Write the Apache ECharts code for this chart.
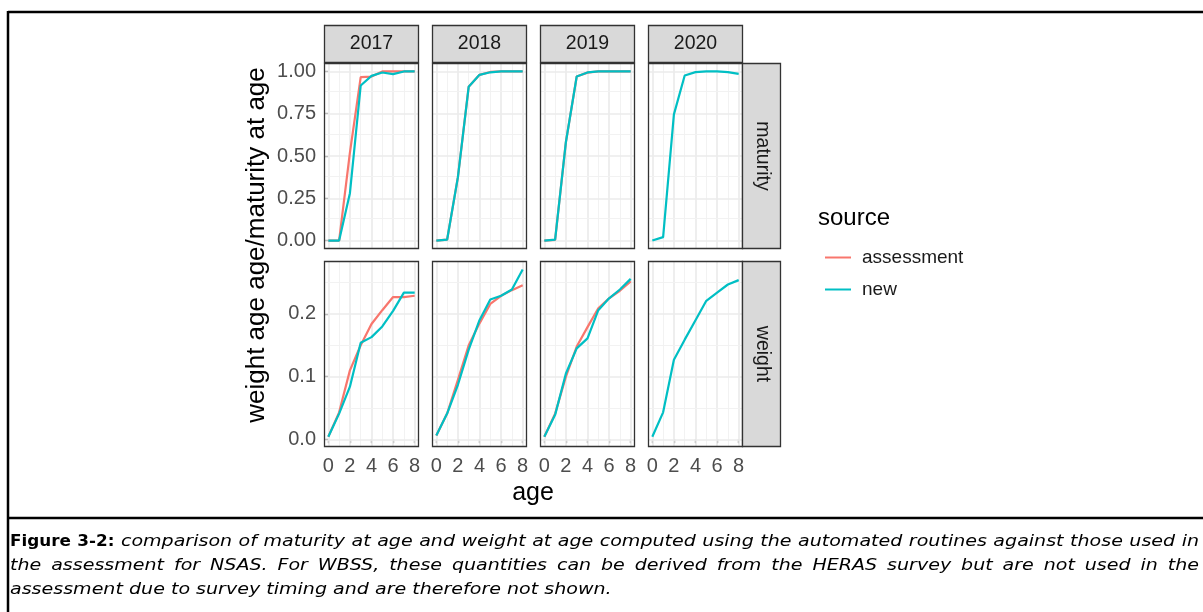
<!DOCTYPE html>
<html>
<head>
<meta charset="utf-8">
<script src="https://cdn.jsdelivr.net/npm/echarts@6/dist/echarts.min.js"></script>
<style>
  html, body { margin: 0; padding: 0; background: #fff; }
  #chart { width: 1203px; height: 612px; }
</style>
</head>
<body>
<div id="chart"></div>
<script>
// ---- data -------------------------------------------------------------
const years = ['2017', '2018', '2019', '2020'];
const quantities = ['maturity', 'weight'];
const ages = [0, 1, 2, 3, 4, 5, 6, 7, 8];
const ageTicks = [0, 2, 4, 6, 8];
const maturityTicks = [0, 0.25, 0.5, 0.75, 1];
const weightTicks = [0, 0.1, 0.2];
const sources = ['assessment', 'new'];

// maturity at age (proportion mature)
const matAssess2017 = [0, 0, 0.52, 0.966, 0.97, 1.0, 1.0, 1.0, 1.0];
const matNew2017    = [0, 0, 0.28, 0.917, 0.974, 0.994, 0.984, 1.0, 1.0];
const matAssess2018 = [0, 0.005, 0.375, 0.91, 0.98, 0.997, 1.0, 1.0, 1.0];
const matNew2018    = [0, 0.005, 0.375, 0.91, 0.98, 0.995, 1.0, 1.0, 1.0];
const matAssess2019 = [0, 0.004, 0.583, 0.97, 0.993, 1.0, 1.0, 1.0, 1.0];
const matNew2019    = [0, 0.006, 0.583, 0.97, 0.994, 1.0, 1.0, 1.0, 1.0];
const matNew2020    = [0, 0.02, 0.746, 0.976, 0.996, 1.0, 1.0, 0.996, 0.986];

// weight at age (kg)
const wtAssess2017 = [0.004, 0.043, 0.110, 0.150, 0.184, 0.206, 0.227, 0.227, 0.229];
const wtNew2017    = [0.004, 0.041, 0.084, 0.154, 0.163, 0.180, 0.205, 0.234, 0.234];
const wtAssess2018 = [0.006, 0.041, 0.095, 0.150, 0.185, 0.216, 0.229, 0.238, 0.246];
const wtNew2018    = [0.006, 0.041, 0.087, 0.143, 0.190, 0.223, 0.229, 0.239, 0.271];
const wtAssess2019 = [0.004, 0.041, 0.100, 0.148, 0.179, 0.209, 0.225, 0.237, 0.252];
const wtNew2019    = [0.004, 0.039, 0.105, 0.145, 0.161, 0.206, 0.225, 0.239, 0.256];
const wtNew2020    = [0.004, 0.043, 0.127, 0.159, 0.190, 0.221, 0.234, 0.247, 0.254];

// [assessment, new] per facet; null where a source has no values
const facetData = {
  maturity: {
    '2017': [matAssess2017, matNew2017],
    '2018': [matAssess2018, matNew2018],
    '2019': [matAssess2019, matNew2019],
    '2020': [null, matNew2020]
  },
  weight: {
    '2017': [wtAssess2017, wtNew2017],
    '2018': [wtAssess2018, wtNew2018],
    '2019': [wtAssess2019, wtNew2019],
    '2020': [null, wtNew2020]
  }
};

const captionLines = [
  [{ t: 'Figure 3-2:', bold: true }, { t: 'comparison of maturity at age and weight at age computed using the automated routines against those used in' }],
  [{ t: 'the assessment for NSAS. For WBSS, these quantities can be derived from the HERAS survey but are not used in the' }],
  [{ t: 'assessment due to survey timing and are therefore not shown.' }]
];

// ---- layout & style ---------------------------------------------------
const FONT = '"Liberation Sans", Arial, sans-serif';
const CAP_FONT = '"DejaVu Sans", Verdana, sans-serif';
const colours = { assessment: '#F8766D', new: '#00BFC4' };
const colLeft = [324, 432, 540, 648];
const rowTop = [63, 261];
const PANEL_W = 95, PANEL_H = 186;
const STRIP = 38;
const ageRange = [-0.4, 8.4];
const yRanges = { maturity: [-0.05, 1.05], weight: [-0.0123, 0.2845] };
const yTicks = { maturity: maturityTicks, weight: weightTicks };
const yDigits = { maturity: 2, weight: 1 };

const grids = [], xAxes = [], yAxes = [], series = [], graphics = [];

function minorBetween(ticks) {
  const out = [];
  for (let i = 0; i < ticks.length - 1; i++) out.push((ticks[i] + ticks[i + 1]) / 2);
  return out;
}

quantities.forEach((q, r) => {
  years.forEach((yr, c) => {
    const idx = r * years.length + c;
    const bottom = r === quantities.length - 1;
    const left = c === 0;
    grids.push({ left: colLeft[c], top: rowTop[r], width: PANEL_W, height: PANEL_H, show: true,
                 backgroundColor: '#fff', borderWidth: 0 });
    xAxes.push({
      gridIndex: idx, type: 'value', min: ageRange[0], max: ageRange[1],
      axisLine: { show: false }, splitLine: { show: false },
      axisTick: { show: bottom, customValues: ageTicks, length: 4, lineStyle: { color: '#333', width: 1.2 } },
      axisLabel: { show: bottom, customValues: ageTicks, margin: 9, fontSize: 20, color: '#4D4D4D', fontFamily: FONT }
    });
    yAxes.push({
      gridIndex: idx, type: 'value', min: yRanges[q][0], max: yRanges[q][1],
      axisLine: { show: false }, splitLine: { show: false },
      axisTick: { show: left, customValues: yTicks[q], length: 4, lineStyle: { color: '#333', width: 1.2 } },
      axisLabel: { show: left, customValues: yTicks[q], margin: 8, fontSize: 20, color: '#4D4D4D', fontFamily: FONT,
                   formatter: v => v.toFixed(yDigits[q]) }
    });

    // panel grid lines (major and minor), kept beneath the data lines
    const major = { color: '#EBEBEB', width: 1.7, type: 'solid' };
    const minor = { color: '#F0F0F0', width: 0.9, type: 'solid' };
    const lines = []
      .concat(ageTicks.map(v => ({ xAxis: v, lineStyle: major })))
      .concat(minorBetween(ageTicks).map(v => ({ xAxis: v, lineStyle: minor })))
      .concat(yTicks[q].map(v => ({ yAxis: v, lineStyle: major })))
      .concat(minorBetween(yTicks[q].concat(q === 'weight' ? [0.3] : [])).filter(v => v < yRanges[q][1]).map(v => ({ yAxis: v, lineStyle: minor })));
    series.push({
      type: 'line', xAxisIndex: idx, yAxisIndex: idx, data: [], silent: true, z: 1,
      markLine: { z: 1, silent: true, symbol: ['none', 'none'], label: { show: false }, animation: false,
                  emphasis: { disabled: true }, data: lines }
    });

    facetData[q][yr].forEach((vals, s) => {
      if (!vals) return;
      const name = sources[s];
      series.push({
        type: 'line', name, xAxisIndex: idx, yAxisIndex: idx,
        data: ages.map((a, i) => [a, vals[i]]),
        symbol: 'none', showSymbol: false, silent: true, animation: false, z: 10 + s,
        lineStyle: { color: colours[name], width: 2.2 }, itemStyle: { color: colours[name] },
        emphasis: { disabled: true }
      });
    });

    // panel border
    graphics.push({ type: 'rect', z: 50, silent: true,
      shape: { x: colLeft[c] + 0.5, y: rowTop[r] + 0.5, width: PANEL_W - 1, height: PANEL_H - 1 },
      style: { fill: null, stroke: '#333333', lineWidth: 1.3 } });
  });
});

// facet strips: years across the top, quantities down the right side
years.forEach((yr, c) => {
  graphics.push({ type: 'rect', z: 50, silent: true,
    shape: { x: colLeft[c] + 0.5, y: rowTop[0] - STRIP + 0.5, width: PANEL_W - 1, height: STRIP - 1 },
    style: { fill: '#D9D9D9', stroke: '#333333', lineWidth: 1.3 } });
  graphics.push({ type: 'text', z: 51, silent: true,
    x: colLeft[c] + PANEL_W / 2, y: rowTop[0] - STRIP / 2,
    style: { text: yr, fontSize: 19.5, fontFamily: FONT, fill: '#1A1A1A', align: 'center', verticalAlign: 'middle' } });
});
const stripX = colLeft[3] + PANEL_W;
quantities.forEach((q, r) => {
  graphics.push({ type: 'rect', z: 50, silent: true,
    shape: { x: stripX - 0.5, y: rowTop[r] + 0.5, width: STRIP, height: PANEL_H - 1 },
    style: { fill: '#D9D9D9', stroke: '#333333', lineWidth: 1.3 } });
  graphics.push({ type: 'text', z: 51, silent: true,
    x: stripX + STRIP / 2, y: rowTop[r] + PANEL_H / 2, rotation: -Math.PI / 2,
    style: { text: q, fontSize: 19.5, fontFamily: FONT, fill: '#1A1A1A', align: 'center', verticalAlign: 'middle' } });
});

// axis titles
graphics.push({ type: 'text', silent: true, x: 257, y: 245, rotation: Math.PI / 2,
  style: { text: 'weight age age/maturity at age', fontSize: 26, fontFamily: FONT, fill: '#000', align: 'center', verticalAlign: 'middle' } });
graphics.push({ type: 'text', silent: true, x: 533, y: 493,
  style: { text: 'age', fontSize: 25, fontFamily: FONT, fill: '#000', align: 'center', verticalAlign: 'middle' } });

// legend title
graphics.push({ type: 'text', silent: true, x: 818, y: 218,
  style: { text: 'source', fontSize: 24, fontFamily: FONT, fill: '#000', align: 'left', verticalAlign: 'middle' } });

// figure frame and caption separator
const frame = { stroke: '#000', lineWidth: 2.5 };
graphics.push({ type: 'line', silent: true, shape: { x1: 8, y1: 12, x2: 1203, y2: 12 }, style: frame });
graphics.push({ type: 'line', silent: true, shape: { x1: 8, y1: 11, x2: 8, y2: 612 }, style: frame });
graphics.push({ type: 'line', silent: true, shape: { x1: 8, y1: 518, x2: 1203, y2: 518 }, style: frame });

// justified caption, placed word by word
(function caption() {
  const ctx = document.createElement('canvas').getContext('2d');
  const size = 15;
  const stretch = { bold: 1.12, italic: 1.27 };
  const x0 = 10, x1 = 1199, lineY = [542, 566, 590];
  captionLines.forEach((line, li) => {
    const words = [];
    line.forEach(part => part.t.split(' ').forEach(w => words.push({ w, bold: !!part.bold })));
    words.forEach(o => {
      o.sx = o.bold ? stretch.bold : stretch.italic;
      ctx.font = (o.bold ? 'bold ' : 'italic ') + size + 'px ' + CAP_FONT;
      o.width = ctx.measureText(o.w).width * o.sx;
    });
    ctx.font = 'italic ' + size + 'px ' + CAP_FONT;
    const space = ctx.measureText(' ').width * stretch.italic;
    const total = words.reduce((s, o) => s + o.width, 0);
    const last = li === captionLines.length - 1;
    const gap = last ? space : (x1 - x0 - total) / (words.length - 1);
    let x = x0;
    words.forEach(o => {
      graphics.push({ type: 'text', silent: true, x, y: lineY[li], scaleX: o.sx,
        style: { text: o.w, fontSize: size, fontFamily: CAP_FONT, fontWeight: o.bold ? 'bold' : 'normal',
                 fontStyle: o.bold ? 'normal' : 'italic', fill: '#000', align: 'left', verticalAlign: 'middle' } });
      x += o.width + gap;
    });
  });
})();

const chart = echarts.init(document.getElementById('chart'), null, { renderer: 'canvas' });
chart.setOption({
  animation: false,
  backgroundColor: '#fff',
  grid: grids,
  xAxis: xAxes,
  yAxis: yAxes,
  series,
  legend: {
    data: sources, orient: 'vertical', left: 820, top: 243, selectedMode: false,
    icon: 'rect', itemWidth: 26, itemHeight: 2, itemGap: 13,
    textStyle: { fontSize: 19, fontFamily: FONT, color: '#1A1A1A', padding: [0, 0, 0, 6] }
  },
  graphic: graphics
});
</script>
</body>
</html>
